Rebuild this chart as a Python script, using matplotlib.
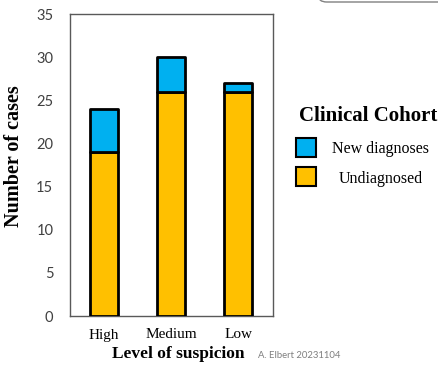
import matplotlib.pyplot as plt
from matplotlib.patches import Rectangle, FancyBboxPatch

# data
levels = ["High", "Medium", "Low"]
undiagnosed = [19, 26, 26]
new_diagnoses = [5, 4, 1]
yticks = [0, 5, 10, 15, 20, 25, 30, 35]

blue = "#00B0F0"
yellow = "#FFC000"
serif = ["Liberation Serif", "DejaVu Serif"]
sans = ["Lato", "DejaVu Sans"]

fig = plt.figure(figsize=(4.39, 3.65), dpi=100)
ax = fig.add_axes([70 / 439, 1 - 316 / 365, 203 / 439, 302 / 365])

x = range(len(levels))
ax.bar(x, undiagnosed, width=0.42, color=yellow, edgecolor="black",
       linewidth=2, joinstyle="round", zorder=3)
ax.bar(x, new_diagnoses, width=0.42, bottom=undiagnosed, color=blue,
       edgecolor="black", linewidth=2, joinstyle="round", zorder=3)

ax.set_xlim(-0.51, 2.52)
ax.set_ylim(0, 35)
ax.set_yticks(yticks)
ax.set_yticklabels([str(v) for v in yticks], family=sans, fontsize=10.5,
                   color="#404040")
ax.set_xticks(list(x))
ax.set_xticklabels(levels, family=serif, fontsize=11)
ax.tick_params(length=0)
ax.tick_params(axis="y", pad=12)
ax.tick_params(axis="x", pad=9)
for s in ax.spines.values():
    s.set_color("#595959")
    s.set_linewidth(1)

ax.set_ylabel("Number of cases", family=serif, fontsize=14.5,
              fontweight="bold", labelpad=9)
ax.set_xlabel("Level of suspicion", family=serif, fontsize=12.5,
              fontweight="bold", labelpad=3)
ax.xaxis.label.set_x(0.535)
ax.yaxis.label.set_y(0.53)

# legend drawn by hand
fig.text(368 / 439, 1 - 116 / 365, "Clinical Cohort", family=serif,
         fontsize=15, fontweight="bold", ha="center", va="center")
for y, col, lab in [(147, blue, "New diagnoses"), (177, yellow, "Undiagnosed")]:
    fig.patches.append(Rectangle((296 / 439, 1 - (y + 9.5) / 365), 20 / 439,
                                 19 / 365, transform=fig.transFigure,
                                 facecolor=col, edgecolor="black",
                                 linewidth=1.5))
    fig.text(381 / 439, 1 - (y + 2) / 365, lab, family=serif, fontsize=11.5,
             ha="center", va="center")

fig.text(258 / 439, 1 - 355 / 365, "A. Elbert 20231104", family=sans,
         fontsize=6.8, color="#7f7f7f", va="center")

# corner of a rounded box poking in at the top right
fig.patches.append(FancyBboxPatch((318 / 439, 1 - 2 / 365), 0.4, 0.1,
                                  boxstyle="round,pad=0,rounding_size=0.02",
                                  transform=fig.transFigure, facecolor="white",
                                  edgecolor="#808080", linewidth=1))

fig.savefig("out.png", dpi=100)
